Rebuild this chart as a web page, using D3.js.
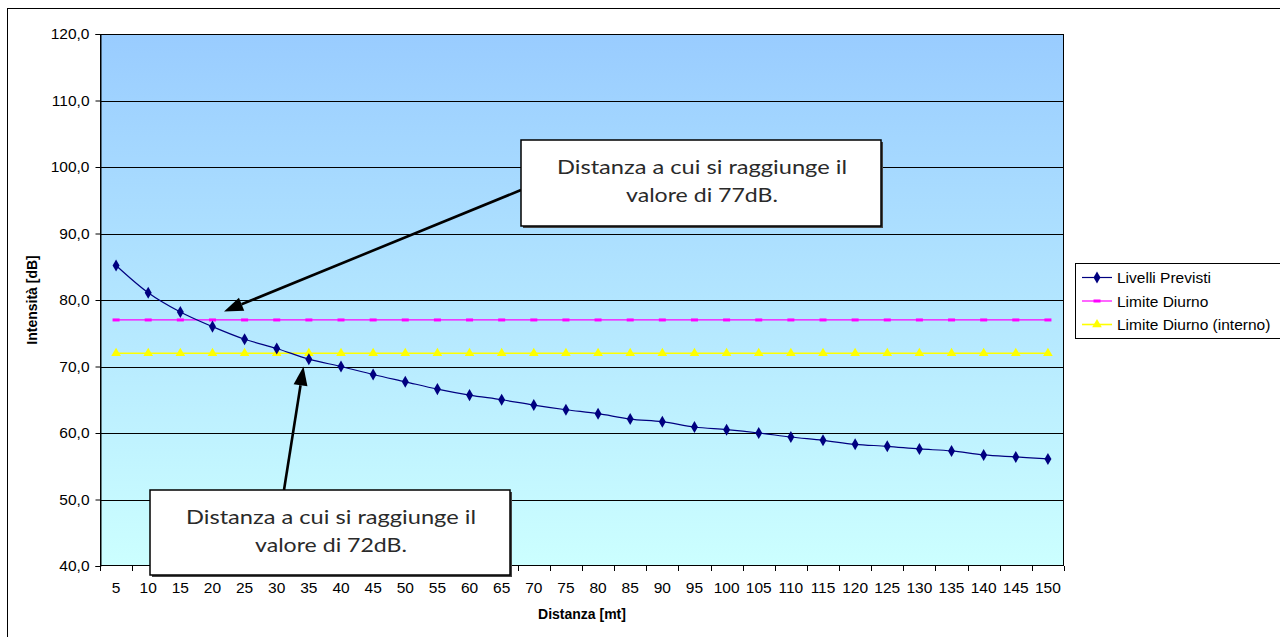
<!DOCTYPE html>
<html><head><meta charset="utf-8">
<script src="https://cdn.jsdelivr.net/npm/d3@7"></script>
<style>html,body{margin:0;padding:0;background:#fff;overflow:hidden}svg{display:block}</style>
</head><body>
<svg id="c" width="1280" height="637"></svg>
<script>
const categories = [5,10,15,20,25,30,35,40,45,50,55,60,65,70,75,80,85,90,95,100,105,110,115,120,125,130,135,140,145,150];
const livelliPrevisti = [85.2,81.1,78.2,76.0,74.1,72.7,71.1,70.0,68.8,67.7,66.6,65.7,65.0,64.2,63.5,62.9,62.1,61.7,60.9,60.5,60.0,59.4,58.9,58.3,58.0,57.6,57.3,56.7,56.4,56.1];
const limiteDiurno = [77,77,77,77,77,77,77,77,77,77,77,77,77,77,77,77,77,77,77,77,77,77,77,77,77,77,77,77,77,77];
const limiteDiurnoInterno = [72,72,72,72,72,72,72,72,72,72,72,72,72,72,72,72,72,72,72,72,72,72,72,72,72,72,72,72,72,72];
const yTicks = [40,50,60,70,80,90,100,110,120];
const seriesNames = ["Livelli Previsti","Limite Diurno","Limite Diurno (interno)"];
const yTitle = "Intensità [dB]";
const xTitle = "Distanza [mt]";
const note77 = ["Distanza a cui si raggiunge il","valore di 77dB."];
const note72 = ["Distanza a cui si raggiunge il","valore di 72dB."];

const svg = d3.select("#c");
const plot = {l:100, t:34, r:1064, b:566};
const font = "'Liberation Sans', Arial, sans-serif";

svg.append("rect").attr("x",7.5).attr("y",8.5).attr("width",1300).attr("height",700)
  .attr("fill","#fff").attr("stroke","#000").attr("stroke-width",1);

const defs = svg.append("defs");
const grad = defs.append("linearGradient").attr("id","bg").attr("x1",0).attr("y1",0).attr("x2",0).attr("y2",1);
grad.append("stop").attr("offset","0%").attr("stop-color","#99CCFF");
grad.append("stop").attr("offset","100%").attr("stop-color","#CCFFFF");

const x = d3.scaleBand().domain(categories).range([plot.l, plot.r]);
const y = d3.scaleLinear().domain([40,120]).range([plot.b, plot.t]);
const loc = d3.formatLocale({decimal:",", thousands:".", grouping:[3], currency:["","€"]});
const fmt = loc.format(".1f");

svg.append("rect").attr("x",plot.l).attr("y",plot.t).attr("width",plot.r-plot.l).attr("height",plot.b-plot.t)
  .attr("fill","url(#bg)");

svg.append("g").selectAll("line").data(yTicks.filter(v=>v>40 && v<120)).join("line")
  .attr("x1",plot.l).attr("x2",plot.r).attr("y1",d=>Math.round(y(d))+0.5).attr("y2",d=>Math.round(y(d))+0.5)
  .attr("stroke","#000").attr("stroke-width",1);

svg.append("rect").attr("x",plot.l+0.5).attr("y",plot.t+0.5).attr("width",plot.r-plot.l-1).attr("height",plot.b-plot.t-1)
  .attr("fill","none").attr("stroke","#000").attr("stroke-width",1);

const yAxis = d3.axisLeft(y).tickValues(yTicks).tickFormat(fmt).tickSize(5).tickPadding(6);
const gy = svg.append("g").attr("transform",`translate(${plot.l+0.5},0)`).call(yAxis);
gy.select(".domain").attr("stroke","#000");
gy.selectAll("text").attr("font-family",font).attr("font-size",15.5).attr("fill","#000");

const xAxis = d3.axisBottom(x).tickSize(0).tickPadding(16);
const gx = svg.append("g").attr("transform",`translate(0,${plot.b-0.5})`).call(xAxis);
gx.select(".domain").remove();
gx.selectAll("text").attr("font-family",font).attr("font-size",15.5).attr("fill","#000");
const bounds = categories.map(c=>x(c)).concat([x(categories[categories.length-1])+x.bandwidth()]);
svg.append("g").selectAll("line").data(bounds).join("line")
  .attr("x1",d=>Math.round(d)+0.5).attr("x2",d=>Math.round(d)+0.5)
  .attr("y1",plot.b).attr("y2",plot.b+5).attr("stroke","#000");

svg.append("text").attr("x",(plot.l+plot.r)/2).attr("y",619).attr("text-anchor","middle")
  .attr("font-family",font).attr("font-weight","bold").attr("font-size",14).text(xTitle);
svg.append("text").attr("transform",`translate(37,${(plot.t+plot.b)/2}) rotate(-90)`).attr("text-anchor","middle")
  .attr("font-family",font).attr("font-weight","bold").attr("font-size",14).text(yTitle);

const cx = c => x(c) + x.bandwidth()/2;
const line = d3.line().x((d,i)=>cx(categories[i])).y(d=>y(d));

svg.append("path").datum(limiteDiurno).attr("d",line).attr("fill","none").attr("stroke","#FF00FF").attr("stroke-width",1.2);
svg.append("path").datum(limiteDiurnoInterno).attr("d",line).attr("fill","none").attr("stroke","#FFFF00").attr("stroke-width",1.6);
svg.append("path").datum(livelliPrevisti).attr("d",d3.line().curve(d3.curveMonotoneX).x((d,i)=>cx(categories[i])).y(d=>y(d)))
  .attr("fill","none").attr("stroke","#000080").attr("stroke-width",1.2);

const tri = d3.symbol().type(d3.symbolTriangle).size(40);
const dia = d3.symbol().type(d3.symbolDiamond).size(42);
svg.append("g").selectAll("rect").data(limiteDiurno).join("rect")
  .attr("x",(d,i)=>cx(categories[i])-3.5).attr("y",d=>y(d)-1.5).attr("width",7).attr("height",3).attr("fill","#FF00FF");
svg.append("g").selectAll("path").data(limiteDiurnoInterno).join("path")
  .attr("d",tri).attr("transform",(d,i)=>`translate(${cx(categories[i])},${y(d)})`).attr("fill","#FFFF00");
svg.append("g").selectAll("path").data(livelliPrevisti).join("path")
  .attr("d",dia).attr("transform",(d,i)=>`translate(${cx(categories[i])},${y(d)})`).attr("fill","#000080");

const lg = svg.append("g");
lg.append("rect").attr("x",1075.5).attr("y",263.5).attr("width",260).attr("height",75).attr("fill","#fff").attr("stroke","#000");
const legY = [277.5,301,324.5];
const legColors = ["#000080","#FF00FF","#FFFF00"];
seriesNames.forEach((n,i)=>{
  lg.append("line").attr("x1",1082).attr("x2",1112).attr("y1",legY[i]).attr("y2",legY[i]).attr("stroke",legColors[i]).attr("stroke-width",i==2?1.6:1.2);
  const mx = 1097;
  if(i==0) lg.append("path").attr("d",dia).attr("transform",`translate(${mx},${legY[i]})`).attr("fill",legColors[i]);
  if(i==1) lg.append("rect").attr("x",mx-3.5).attr("y",legY[i]-1.5).attr("width",7).attr("height",3).attr("fill",legColors[i]);
  if(i==2) lg.append("path").attr("d",tri).attr("transform",`translate(${mx},${legY[i]})`).attr("fill",legColors[i]);
  lg.append("text").attr("x",1117).attr("y",legY[i]+5.5).attr("font-family",font).attr("font-size",15.5).text(n);
});

function arrow(x1,y1,x2,y2){
  const a = Math.atan2(y2-y1,x2-x1), len=19, wid=14;
  const bx = x2 - len*Math.cos(a), by = y2 - len*Math.sin(a);
  const px = -Math.sin(a)*wid/2, py = Math.cos(a)*wid/2;
  svg.append("line").attr("x1",x1).attr("y1",y1).attr("x2",bx).attr("y2",by).attr("stroke","#000").attr("stroke-width",2.6);
  svg.append("polygon").attr("points",`${x2},${y2} ${bx+px},${by+py} ${bx-px},${by-py}`).attr("fill","#000");
}
arrow(521,190,224,311.5);
arrow(284,490,303.5,366.5);

function note(bx,by,bw,bh,lines,b1,b2,cxv){
  svg.append("rect").attr("x",bx+2).attr("y",by+2).attr("width",bw).attr("height",bh).attr("fill","#444");
  svg.append("rect").attr("x",bx).attr("y",by).attr("width",bw).attr("height",bh).attr("fill","#fff").attr("stroke","#000").attr("stroke-width",1.5);
  const tl = [290,152];
  [b1,b2].forEach((bl,i)=>{
    svg.append("text").attr("x",cxv).attr("y",bl).attr("text-anchor","middle")
      .attr("font-family","Lato, 'DejaVu Sans', sans-serif").attr("font-weight",400).attr("font-size",20).attr("fill","#2a2a2a")
      .attr("textLength",tl[i]).attr("lengthAdjust","spacingAndGlyphs").text(lines[i]);
  });
}
note(521,140,360,86,note77,173.5,201.5,702);
note(150,490,360,85,note72,523.5,551.5,331);
</script>
</body></html>
